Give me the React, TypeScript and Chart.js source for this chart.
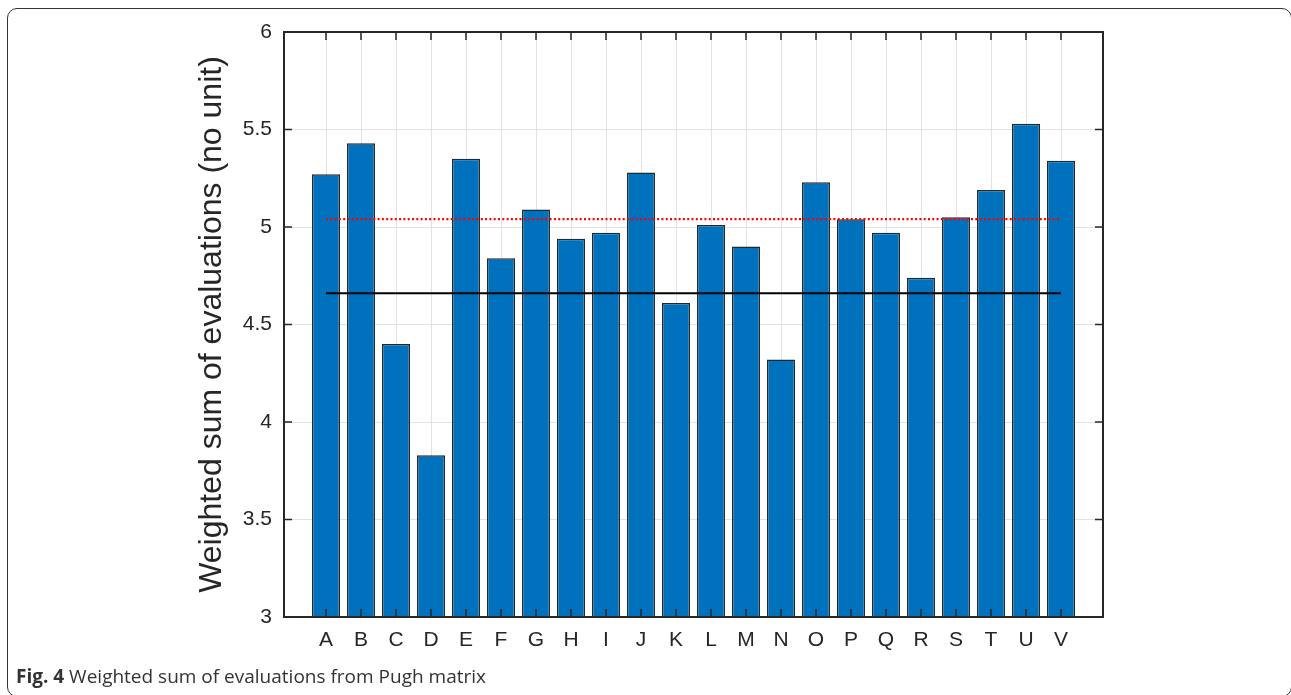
import React, { useEffect, useRef } from "react";
import { Chart, registerables } from "chart.js";

Chart.register(...registerables);

// ---- data ----
const categories = ["A", "B", "C", "D", "E", "F", "G", "H", "I", "J", "K", "L", "M", "N", "O", "P", "Q", "R", "S", "T", "U", "V"];
const scores = [5.27, 5.43, 4.40, 3.83, 5.35, 4.84, 5.09, 4.94, 4.97, 5.28, 4.61, 5.01, 4.90, 4.32, 5.23, 5.04, 4.97, 4.74, 5.05, 5.19, 5.53, 5.34];
const refLevel = 5.04; // red dotted line
const meanLevel = 4.66; // black solid line
const yTickValues = [3, 3.5, 4, 4.5, 5, 5.5, 6];
const yTitle = "Weighted sum of evaluations (no unit)";

const W = 1291;
const H = 695;
const TEXT = "#262626";
const FONT = "'Liberation Sans', Arial, Helvetica, sans-serif";

const boxPlugin = {
  id: "matlabBox",
  afterDatasetsDraw(chart: any) {
    const { ctx, chartArea: a, scales } = chart;
    const tl = 8;
    ctx.save();
    ctx.strokeStyle = TEXT;
    ctx.lineWidth = 1.5;
    ctx.beginPath();
    scales.x.ticks.forEach((t: any) => {
      const px = scales.x.getPixelForValue(t.value);
      ctx.moveTo(px, a.bottom);
      ctx.lineTo(px, a.bottom - tl);
      ctx.moveTo(px, a.top);
      ctx.lineTo(px, a.top + tl);
    });
    scales.y.ticks.forEach((t: any) => {
      const py = scales.y.getPixelForValue(t.value);
      ctx.moveTo(a.left, py);
      ctx.lineTo(a.left + tl, py);
      ctx.moveTo(a.right, py);
      ctx.lineTo(a.right - tl, py);
    });
    ctx.stroke();
    ctx.lineWidth = 2;
    ctx.strokeRect(a.left, a.top, a.right - a.left, a.bottom - a.top);
    ctx.restore();
  },
};

export default function App() {
  const ref = useRef<HTMLCanvasElement | null>(null);

  useEffect(() => {
    if (!ref.current) return;
    const chart = new Chart(ref.current, {
      type: "bar",
      data: {
        datasets: [
          {
            type: "line",
            data: [
              { x: 0, y: refLevel },
              { x: categories.length - 1, y: refLevel },
            ],
            borderColor: "#ff0000",
            borderWidth: 2.2,
            borderDash: [2, 2.3],
            pointRadius: 0,
            order: 0,
          } as any,
          {
            type: "line",
            data: [
              { x: 0, y: meanLevel },
              { x: categories.length - 1, y: meanLevel },
            ],
            borderColor: "#000000",
            borderWidth: 2,
            pointRadius: 0,
            order: 0,
          } as any,
          {
            type: "bar",
            data: scores.map((v, i) => ({ x: i, y: v })),
            backgroundColor: "#0072BD",
            borderColor: "#1f2a33",
            borderWidth: 1.5,
            borderSkipped: false,
            barPercentage: 0.8,
            categoryPercentage: 1,
            order: 1,
          } as any,
        ],
      },
      options: {
        animation: false,
        responsive: false,
        devicePixelRatio: 1,
        layout: { padding: { left: 0, right: 188, top: 32, bottom: 28 } },
        plugins: { legend: { display: false }, tooltip: { enabled: false } },
        scales: {
          x: {
            type: "linear",
            offset: false,
            min: -1.2,
            max: 22.2,
            afterBuildTicks: (s: any) => {
              s.ticks = categories.map((_, i) => ({ value: i }));
            },
            afterFit: (s: any) => {
              s.height = 50;
            },
            ticks: {
              callback: (v: any) => categories[v] ?? "",
              color: TEXT,
              font: { family: FONT, size: 21 },
              padding: 11,
              maxRotation: 0,
              autoSkip: false,
            },
            grid: { color: "#e2e2e2", lineWidth: 1, drawTicks: false, offset: false },
            border: { display: false },
          },
          y: {
            type: "linear",
            min: 3,
            max: 6,
            afterBuildTicks: (s: any) => {
              s.ticks = yTickValues.map((v) => ({ value: v }));
            },
            afterFit: (s: any) => {
              s.width = 284;
            },
            ticks: {
              callback: (v: any) => String(v),
              color: TEXT,
              font: { family: FONT, size: 21 },
              padding: 12,
            },
            title: {
              display: true,
              text: yTitle,
              color: TEXT,
              font: { family: FONT, size: 32 },
              padding: { top: 193, bottom: 0 },
            },
            grid: { color: "#e2e2e2", lineWidth: 1, drawTicks: false },
            border: { display: false },
          },
        },
      } as any,
      plugins: [boxPlugin],
    });
    return () => chart.destroy();
  }, []);

  return (
    <div style={{ position: "fixed", left: 0, top: 0, width: W, height: H, overflow: "hidden", background: "#fff" }}>
      <canvas ref={ref} width={W} height={H} style={{ position: "absolute", left: 0, top: 0, width: W, height: H }} />
      <div
        style={{
          position: "absolute",
          left: 7,
          top: 8,
          width: 1290 - 7 + 2,
          height: 697 - 8,
          border: "1.5px solid #333",
          borderRadius: 10,
          boxSizing: "border-box",
          pointerEvents: "none",
        }}
      />
      <div
        style={{
          position: "absolute",
          left: 16,
          top: 664,
          fontFamily: "'Open Sans', 'Noto Sans', sans-serif",
          fontSize: 19,
          color: "#333",
          whiteSpace: "nowrap",
          lineHeight: "24px",
        }}
      >
        <b>Fig. 4</b> Weighted sum of evaluations from Pugh matrix
      </div>
    </div>
  );
}
